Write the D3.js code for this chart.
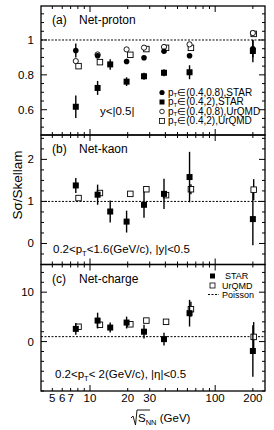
<!DOCTYPE html>
<head>
  <meta charset="utf-8">
  <title>S sigma / Skellam</title>
  <style>
    body { margin: 0; background: #fff; }
    text { font-family: "Liberation Sans", Arial, sans-serif; fill: #000; }
  </style>
</head>
<body>
<script src="https://d3js.org/d3.v7.min.js"></script>
<script>
// collision energies (GeV)
var energies = [7.7, 11.5, 14.5, 19.6, 27, 39, 62.4, 200];
var urqmdEnergies = [8.1, 12.0, 21.0, 28.2, 40.5, 64, 203];

// (a) net-proton, STAR
var protonLowPt = [0.94, 0.91, null, 0.877, 0.898, 0.935, 0.91, 0.95];
var protonLowPtErr = [0.04, 0.015, null, 0.015, 0.01, 0.012, 0.012, 0.05];
var protonWidePt = [0.617, 0.725, 0.86, 0.761, 0.792, 0.812, 0.815, 0.937];
var protonWidePtErr = [0.065, 0.04, 0.03, 0.025, 0.02, 0.02, 0.04, 0.065];
// (a) net-proton, UrQMD (circles sit at STAR energies, squares shifted)
var urqmdProtonLowPt = [0.879, 0.917, null, 0.946, 0.956, 0.96, 0.975, 1.04];
var urqmdProtonWidePt = [0.85, 0.873, 0.915, 0.948, 0.955, 0.955, 1.035];

// (b) net-kaon
var kaon = [1.38, 1.16, 0.76, 0.52, 0.92, 1.18, 1.58, 0.58];
var kaonErr = [0.18, 0.24, 0.26, 0.26, 0.31, 0.36, 0.6, 0.62];
var urqmdKaon = [1.08, 1.2, 1.18, 1.29, 1.15, 1.29, 1.28];
var urqmdKaonErr = [0, 0, 0, 0, 0, 0.12, 0.25];

// (c) net-charge
var charge = [2.57, 4.25, 2.84, 3.85, 2.0, 0.5, 5.75, -1.9];
var chargeErr = [1.2, 1.6, 1.0, 1.2, 1.4, 1.3, 2.7, 5.2];
var urqmdCharge = [3.0, 3.4, 3.5, 4.25, 4.0, 6.55, 0.95];
var urqmdChargeErr = [0, 0, 0, 0, 0, 1.5, 3.0];

var xTicks = [5, 6, 7, 8, 9, 10, 20, 30, 40, 50, 60, 70, 80, 90, 100, 200];
var xLabels = [5, 6, 7, 10, 20, 30, 100, 200];

var width = 274, height = 430;
var left = 41, right = 265;

var svg = d3.select("body").append("svg")
    .attr("width", width)
    .attr("height", height);

var x = d3.scaleLog().domain([4.06, 250]).range([left, right]);

var panels = [
  { key: "a", top: 6, bottom: 135, domain: [0.455, 1.195], major: [0.6, 0.8, 1], minorStep: 0.05,
    fmt: function(d) { return d === 1 ? "1" : d3.format(".1f")(d); } },
  { key: "b", top: 135, bottom: 264.5, domain: [-0.5, 2.58], major: [0, 1, 2], minorStep: 0.25,
    fmt: d3.format("d") },
  { key: "c", top: 264.5, bottom: 391, domain: [-10, 15.6], major: [0, 10], minorStep: 2,
    fmt: d3.format("d") }
];

panels.forEach(function(p) {
  p.y = d3.scaleLinear().domain(p.domain).range([p.bottom, p.top]);
  var g = svg.append("g");
  p.g = g;

  // minor / major y ticks, mirrored
  var minors = d3.range(Math.ceil(p.domain[0] / p.minorStep) * p.minorStep, p.domain[1], p.minorStep);
  minors.forEach(function(v) {
    var isMajor = p.major.some(function(m) { return Math.abs(m - v) < 1e-6; });
    var len = isMajor ? 6 : 3;
    g.append("line").attr("x1", left).attr("x2", left + len)
      .attr("y1", p.y(v)).attr("y2", p.y(v)).attr("stroke", "#000").attr("stroke-width", 1);
    g.append("line").attr("x1", right).attr("x2", right - len)
      .attr("y1", p.y(v)).attr("y2", p.y(v)).attr("stroke", "#000").attr("stroke-width", 1);
  });
  g.selectAll(".ylab").data(p.major).enter().append("text")
    .attr("x", 34).attr("y", function(d) { return p.y(d) + 4; })
    .attr("text-anchor", "end").attr("font-size", 11.5)
    .text(p.fmt);

  // x ticks on bottom and top edges
  xTicks.forEach(function(v) {
    var len = (v === 10 || v === 100) ? 6 : 3;
    g.append("line").attr("x1", x(v)).attr("x2", x(v))
      .attr("y1", p.bottom).attr("y2", p.bottom - len).attr("stroke", "#000");
    g.append("line").attr("x1", x(v)).attr("x2", x(v))
      .attr("y1", p.top).attr("y2", p.top + len).attr("stroke", "#000");
  });

  // Poisson / unity line
  g.append("line").attr("x1", left).attr("x2", right)
    .attr("y1", p.y(1)).attr("y2", p.y(1))
    .attr("stroke", "#000").attr("stroke-width", 1).attr("stroke-dasharray", "2,1.5");

  // frame
  g.append("rect").attr("x", left).attr("y", p.top)
    .attr("width", right - left).attr("height", p.bottom - p.top)
    .attr("fill", "none").attr("stroke", "#000").attr("stroke-width", 1.3);
});

function errorBars(g, y, xs, vals, errs) {
  vals.forEach(function(v, i) {
    if (v === null || !errs[i]) return;
    g.append("line").attr("x1", x(xs[i])).attr("x2", x(xs[i]))
      .attr("y1", y(v - errs[i])).attr("y2", y(v + errs[i]))
      .attr("stroke", "#000").attr("stroke-width", 1.4);
  });
}
function squares(g, y, xs, vals, filled) {
  vals.forEach(function(v, i) {
    if (v === null) return;
    var s = filled ? 6 : 5.5;
    g.append("rect").attr("x", x(xs[i]) - s / 2).attr("y", y(v) - s / 2)
      .attr("width", s).attr("height", s)
      .attr("fill", filled ? "#000" : "#fff").attr("stroke", "#000").attr("stroke-width", filled ? 0 : 0.9);
  });
}
function circles(g, y, xs, vals, filled) {
  vals.forEach(function(v, i) {
    if (v === null) return;
    g.append("circle").attr("cx", x(xs[i])).attr("cy", y(v)).attr("r", filled ? 2.8 : 2.6)
      .attr("fill", filled ? "#000" : "#fff").attr("stroke", "#000").attr("stroke-width", filled ? 0 : 0.9);
  });
}

// panel (a)
var pa = panels[0];
squares(pa.g, pa.y, urqmdEnergies, urqmdProtonWidePt, false);
circles(pa.g, pa.y, energies, urqmdProtonLowPt, false);
errorBars(pa.g, pa.y, energies, protonLowPt, protonLowPtErr);
errorBars(pa.g, pa.y, energies, protonWidePt, protonWidePtErr);
circles(pa.g, pa.y, energies, protonLowPt, true);
squares(pa.g, pa.y, energies, protonWidePt, true);

// panel (b)
var pb = panels[1];
errorBars(pb.g, pb.y, urqmdEnergies, urqmdKaon, urqmdKaonErr);
squares(pb.g, pb.y, urqmdEnergies, urqmdKaon, false);
errorBars(pb.g, pb.y, energies, kaon, kaonErr);
squares(pb.g, pb.y, energies, kaon, true);

// panel (c)
var pc = panels[2];
errorBars(pc.g, pc.y, urqmdEnergies, urqmdCharge, urqmdChargeErr);
squares(pc.g, pc.y, urqmdEnergies, urqmdCharge, false);
errorBars(pc.g, pc.y, energies, charge, chargeErr);
squares(pc.g, pc.y, energies, charge, true);

// panel titles
var titles = [["(a)", "Net-proton"], ["(b)", "Net-kaon"], ["(c)", "Net-charge"]];
panels.forEach(function(p, i) {
  p.g.append("text").attr("x", 52).attr("y", p.top + 18).attr("font-size", 12).text(titles[i][0]);
  p.g.append("text").attr("x", 79).attr("y", p.top + 18).attr("font-size", 12).text(titles[i][1]);
});

// panel (a) legend
var legA = [
  { sym: "circle", filled: true, range: "(0.4,0.8)", src: "STAR" },
  { sym: "square", filled: true, range: "(0.4,2)", src: "STAR" },
  { sym: "circle", filled: false, range: "(0.4,0.8)", src: "UrQMD" },
  { sym: "square", filled: false, range: "(0.4,2)", src: "UrQMD" }
];
legA.forEach(function(d, i) {
  var yy = 92.5 + i * 9.5;
  if (d.sym === "circle") {
    pa.g.append("circle").attr("cx", 162).attr("cy", yy).attr("r", d.filled ? 2.6 : 2.3)
      .attr("fill", d.filled ? "#000" : "#fff").attr("stroke", "#000").attr("stroke-width", d.filled ? 0 : 0.8);
  } else {
    pa.g.append("rect").attr("x", 159.5).attr("y", yy - 2.5).attr("width", 5).attr("height", 5)
      .attr("fill", d.filled ? "#000" : "#fff").attr("stroke", "#000").attr("stroke-width", d.filled ? 0 : 0.8);
  }
  var t = pa.g.append("text").attr("x", 168).attr("y", yy + 3.3).attr("font-size", 10);
  t.append("tspan").text("p");
  t.append("tspan").attr("font-size", 6).attr("dy", 1.5).text("T");
  t.append("tspan").attr("dy", -1.5).text("\u2208" + d.range + "," + d.src);
});
pa.g.append("text").attr("x", 100).attr("y", 115).attr("font-size", 11.5).text("y<|0.5|");

// panel (b) cut label
var tb = pb.g.append("text").attr("x", 53).attr("y", 252.5).attr("font-size", 11.5);
tb.append("tspan").text("0.2<p");
tb.append("tspan").attr("font-size", 7.5).attr("dy", 3).text("T");
tb.append("tspan").attr("dy", -3).text("<1.6(GeV/c), |y|<0.5");

// panel (c) cut label and legend
var tc = pc.g.append("text").attr("x", 55).attr("y", 378).attr("font-size", 11.5);
tc.append("tspan").text("0.2<p");
tc.append("tspan").attr("font-size", 7.5).attr("dy", 3).text("T");
tc.append("tspan").attr("dy", -3).text("< 2(GeV/c), |\u03b7|<0.5");

pc.g.append("rect").attr("x", 210).attr("y", 273.5).attr("width", 5).attr("height", 5).attr("fill", "#000");
pc.g.append("text").attr("x", 225).attr("y", 279).attr("font-size", 9).text("STAR");
pc.g.append("rect").attr("x", 210).attr("y", 283).attr("width", 5).attr("height", 5)
  .attr("fill", "#fff").attr("stroke", "#000").attr("stroke-width", 0.8);
pc.g.append("text").attr("x", 222).attr("y", 288.5).attr("font-size", 9).text("UrQMD");
pc.g.append("line").attr("x1", 208).attr("x2", 219).attr("y1", 294.5).attr("y2", 294.5)
  .attr("stroke", "#000").attr("stroke-dasharray", "2,1.5");
pc.g.append("text").attr("x", 222).attr("y", 298).attr("font-size", 9).text("Poisson");

// x tick labels
svg.selectAll(".xlab").data(xLabels).enter().append("text")
  .attr("x", function(d) { return x(d); }).attr("y", 402)
  .attr("text-anchor", "middle").attr("font-size", 11.5)
  .text(function(d) { return d; });

// x title: sqrt(s_NN) (GeV)
svg.append("path")
  .attr("d", "M131,418 L133,416 L135.5,425 L137,410 L150,410")
  .attr("fill", "none").attr("stroke", "#000").attr("stroke-width", 0.9);
var xt = svg.append("text").attr("x", 138).attr("y", 422).attr("font-size", 11.5);
xt.append("tspan").text("S");
xt.append("tspan").attr("font-size", 7.5).attr("dy", 3).text("NN");
xt.append("tspan").attr("dy", -3).text(" (GeV)");

// y title
svg.append("text")
  .attr("transform", "translate(22,185) rotate(-90)")
  .attr("text-anchor", "middle").attr("font-size", 13.5)
  .text("S\u03c3/Skellam");
</script>
</body>
